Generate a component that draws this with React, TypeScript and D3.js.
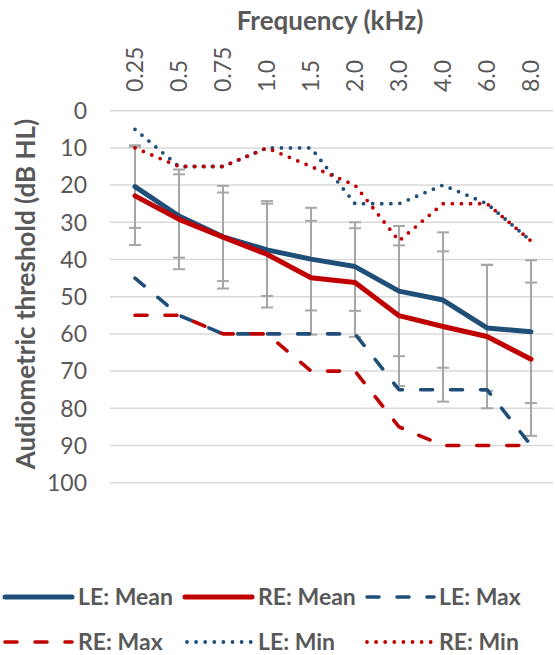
import React from 'react';
import * as d3 from 'd3';

const frequencies = ['0.25', '0.5', '0.75', '1.0', '1.5', '2.0', '3.0', '4.0', '6.0', '8.0'];
const leMean = [20.4, 28.3, 33.9, 37.4, 39.9, 41.9, 48.5, 50.9, 58.4, 59.4];
const reMean = [22.9, 29.2, 34.0, 38.6, 44.9, 46.2, 55.1, 58.0, 60.7, 66.8];
const leSD = [11.1, 11.2, 11.9, 12.4, 13.8, 11.9, 17.5, 18.2, 16.9, 19.2];
const reSD = [13.2, 13.4, 13.8, 14.3, 15.3, 14.6, 18.9, 20.2, 19.3, 20.6];
const leMax = [45, 55, 60, 60, 60, 60, 75, 75, 75, 90];
const reMax = [55, 55, 60, 60, 70, 70, 85, 90, 90, 90];
const leMin = [5, 15, 15, 10, 10, 25, 25, 20, 25, 35];
const reMin = [10, 15, 15, 10, 15, 20, 35, 25, 25, 35];
const yTicks = [0, 10, 20, 30, 40, 50, 60, 70, 80, 90, 100];

const BLUE = '#1F4E79';
const RED = '#C00000';
const GREY = '#A6A6A6';
const TEXT = '#595959';
const FONT = 'Lato, "Open Sans", sans-serif';

type SeriesDef = {
  name: string;
  values: number[];
  color: string;
  width: number;
  dash?: string;
};

const series: SeriesDef[] = [
  { name: 'LE: Mean', values: leMean, color: BLUE, width: 5 },
  { name: 'RE: Mean', values: reMean, color: RED, width: 5 },
  { name: 'LE: Max', values: leMax, color: BLUE, width: 3.6, dash: '12 18' },
  { name: 'RE: Max', values: reMax, color: RED, width: 3.6, dash: '12 18' },
  { name: 'LE: Min', values: leMin, color: BLUE, width: 3.8, dash: '0 9.1' },
  { name: 'RE: Min', values: reMin, color: RED, width: 3.8, dash: '0 9.1' },
];

export default function App() {
  const W = 555;
  const H = 655;
  const x = d3.scaleBand<string>().domain(frequencies).range([113, 553]);
  const y = d3.scaleLinear().domain([0, 100]).range([110.7, 482.7]);
  const cx = (i: number) => (x(frequencies[i]) as number) + x.bandwidth() / 2;
  const line = d3
    .line<number>()
    .x((_, i) => cx(i))
    .y((d) => y(d))
    .curve(d3.curveLinear);

  const errSets = [
    { mean: leMean, sd: leSD },
    { mean: reMean, sd: reSD },
  ];

  const legendPos = [
    { sx: 5, tx: 78, cy: 597 },
    { sx: 185, tx: 258, cy: 597 },
    { sx: 367, tx: 439, cy: 597 },
    { sx: 5, tx: 78, cy: 642 },
    { sx: 187, tx: 258, cy: 642 },
    { sx: 367, tx: 439, cy: 642 },
  ];

  return (
    <svg
      width={W}
      height={H}
      style={{ position: 'absolute', left: 0, top: 0, background: '#fff' }}
      fontFamily={FONT}
    >
      <rect width={W} height={H} fill="#fff" />
      {/* gridlines */}
      {yTicks.map((t) => (
        <line
          key={'g' + t}
          x1={110}
          x2={553}
          y1={y(t)}
          y2={y(t)}
          stroke="#D9D9D9"
          strokeWidth={1.5}
        />
      ))}
      {/* y tick labels */}
      {yTicks.map((t) => (
        <text
          key={'yl' + t}
          x={87}
          y={y(t)}
          dy="0.36em"
          textAnchor="end"
          fontSize={23}
          fill={TEXT}
        >
          {t}
        </text>
      ))}
      {/* x tick labels (top, rotated) */}
      {frequencies.map((f, i) => (
        <text
          key={'xl' + f}
          transform={`translate(${cx(i)},92) rotate(-90)`}
          dy="0.36em"
          textAnchor="start"
          fontSize={23}
          fill={TEXT}
        >
          {f}
        </text>
      ))}
      {/* titles */}
      <text x={330} y={30} textAnchor="middle" fontSize={26} fontWeight="bold" fill={TEXT}>
        Frequency (kHz)
      </text>
      <text
        transform="translate(35,294) rotate(-90)"
        textAnchor="middle"
        fontSize={26}
        fontWeight="bold"
        fill={TEXT}
      >
        Audiometric threshold (dB HL)
      </text>
      {/* error bars */}
      {errSets.map((s, k) =>
        s.mean.map((m, i) => {
          const xc = cx(i);
          const y1 = y(m - s.sd[i]);
          const y2 = y(m + s.sd[i]);
          return (
            <g key={`e${k}-${i}`} stroke={GREY} strokeWidth={2}>
              <line x1={xc} x2={xc} y1={y1} y2={y2} />
              <line x1={xc - 6} x2={xc + 6} y1={y1} y2={y1} />
              <line x1={xc - 6} x2={xc + 6} y1={y2} y2={y2} />
            </g>
          );
        })
      )}
      {/* series lines */}
      {series.map((s) => (
        <path
          key={s.name}
          d={line(s.values) || ''}
          fill="none"
          stroke={s.color}
          strokeWidth={s.width}
          strokeDasharray={s.dash}
          strokeLinecap="round"
          strokeLinejoin="round"
        />
      ))}
      {/* legend */}
      {series.map((s, i) => {
        const p = legendPos[i];
        return (
          <g key={'lg' + s.name}>
            <line
              x1={p.sx}
              x2={p.sx + 67}
              y1={p.cy}
              y2={p.cy}
              stroke={s.color}
              strokeWidth={s.width}
              strokeDasharray={s.dash}
              strokeLinecap="round"
            />
            <text
              x={p.tx}
              y={p.cy}
              dy="0.36em"
              fontSize={23}
              fontWeight="bold"
              fill={TEXT}
            >
              {s.name}
            </text>
          </g>
        );
      })}
    </svg>
  );
}
